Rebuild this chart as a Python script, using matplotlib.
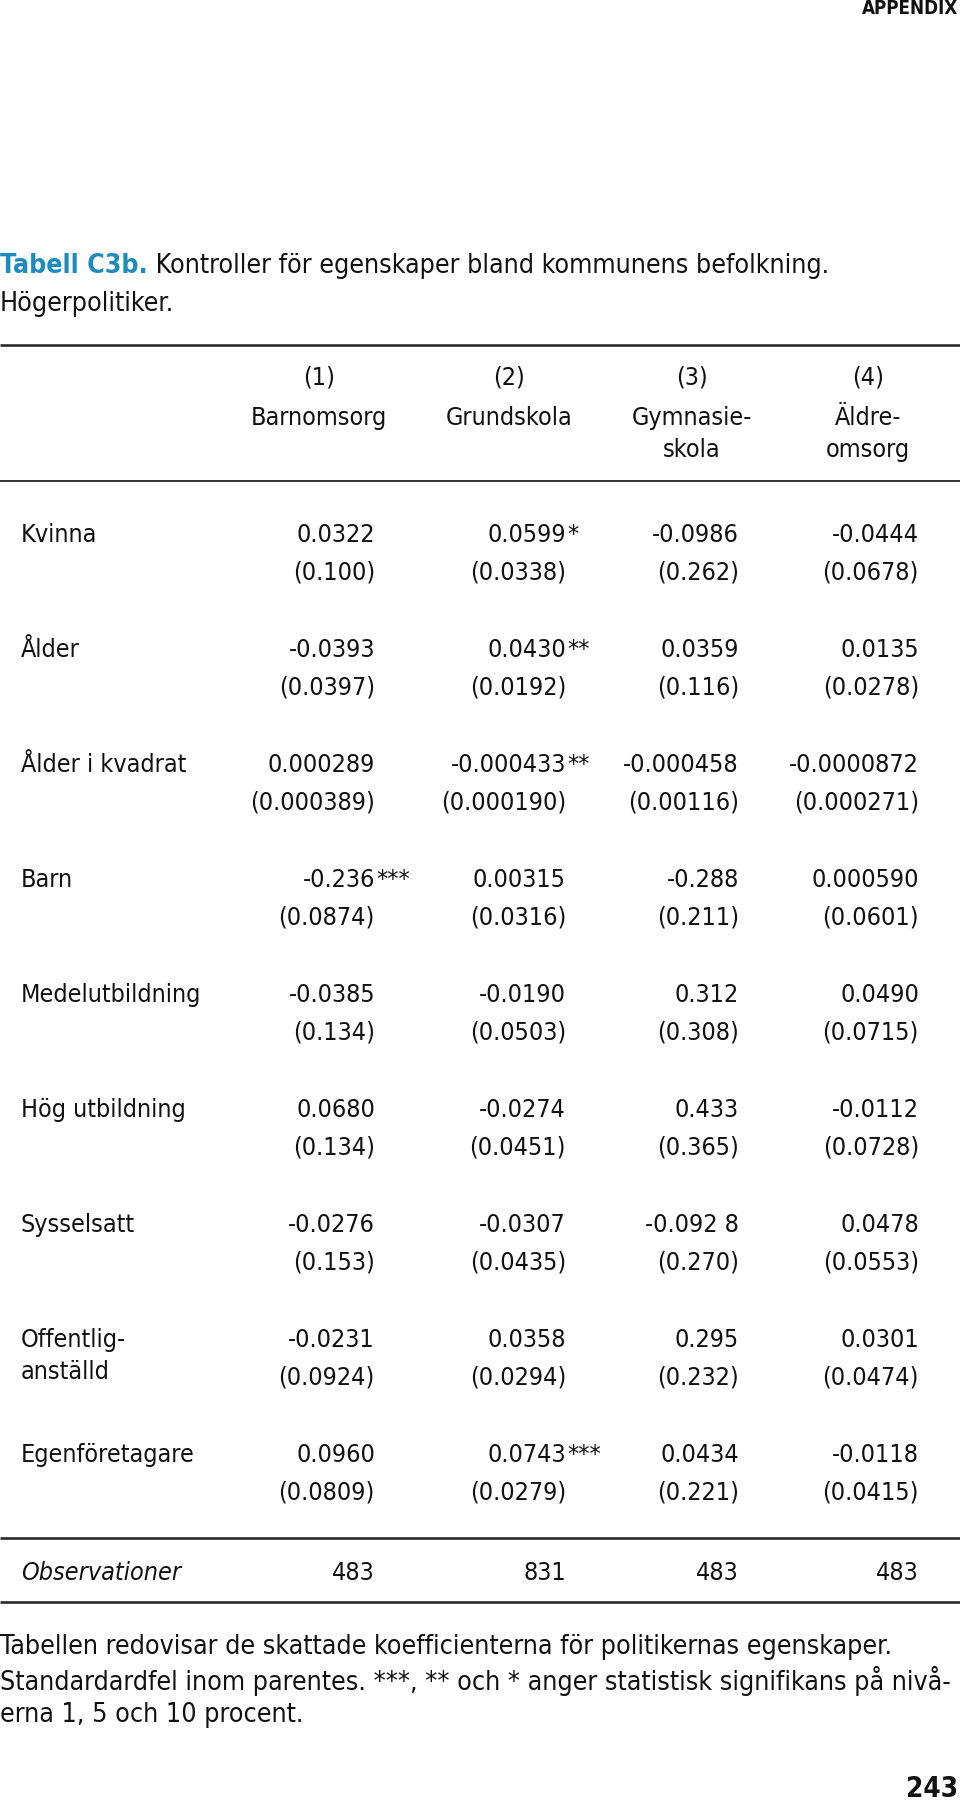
import matplotlib
matplotlib.use("Agg")
import matplotlib.pyplot as plt

# ---------- data ----------
row_labels = ["Kvinna", "Ålder", "Ålder i kvadrat", "Barn", "Medelutbildning",
              "Hög utbildning", "Sysselsatt", "Offentlig-\nanställd", "Egenföretagare"]
col_nums = ["(1)", "(2)", "(3)", "(4)"]
col_names = ["Barnomsorg", "Grundskola", "Gymnasie-\nskola", "Äldre-\nomsorg"]

coef_1 = ["0.0322", "-0.0393", "0.000289", "-0.236", "-0.0385", "0.0680", "-0.0276", "-0.0231", "0.0960"]
se_1 = ["(0.100)", "(0.0397)", "(0.000389)", "(0.0874)", "(0.134)", "(0.134)", "(0.153)", "(0.0924)", "(0.0809)"]
stars_1 = ["", "", "", "***", "", "", "", "", ""]

coef_2 = ["0.0599", "0.0430", "-0.000433", "0.00315", "-0.0190", "-0.0274", "-0.0307", "0.0358", "0.0743"]
se_2 = ["(0.0338)", "(0.0192)", "(0.000190)", "(0.0316)", "(0.0503)", "(0.0451)", "(0.0435)", "(0.0294)", "(0.0279)"]
stars_2 = ["*", "**", "**", "", "", "", "", "", "***"]

coef_3 = ["-0.0986", "0.0359", "-0.000458", "-0.288", "0.312", "0.433", "-0.092 8", "0.295", "0.0434"]
se_3 = ["(0.262)", "(0.116)", "(0.00116)", "(0.211)", "(0.308)", "(0.365)", "(0.270)", "(0.232)", "(0.221)"]
stars_3 = [""] * 9

coef_4 = ["-0.0444", "0.0135", "-0.0000872", "0.000590", "0.0490", "-0.0112", "0.0478", "0.0301", "-0.0118"]
se_4 = ["(0.0678)", "(0.0278)", "(0.000271)", "(0.0601)", "(0.0715)", "(0.0728)", "(0.0553)", "(0.0474)", "(0.0415)"]
stars_4 = [""] * 9

observations = ["483", "831", "483", "483"]

title_lead = "Tabell C3b."
title_rest = " Kontroller för egenskaper bland kommunens befolkning."
title_line2 = "Högerpolitiker."
note_lines = ["Tabellen redovisar de skattade koefficienterna för politikernas egenskaper.",
              "Standardardfel inom parentes. ***, ** och * anger statistisk signifikans på nivå-",
              "erna 1, 5 och 10 procent."]

# ---------- layout ----------
W, H = 960, 1806
FS = 18          # table body
FS_TXT = 19.2    # title + notes
plt.rcParams["font.family"] = "DejaVu Sans"
plt.rcParams["font.stretch"] = "condensed"
TXT = "#111111"
BLUE = "#1e8bbd"

fig = plt.figure(figsize=(W / 100, H / 100), dpi=100)
ax = fig.add_axes([0, 0, 1, 1])
ax.set_xlim(0, W); ax.set_ylim(H, 0); ax.axis("off")

def t(x, y, s, ha="left", **kw):
    kw.setdefault("fontsize", FS); kw.setdefault("color", TXT)
    return ax.text(x, y, s, ha=ha, va="center", **kw)

def width(txt):
    fig.canvas.draw()
    return txt.get_window_extent().transformed(ax.transData.inverted()).x1

t(958, 8, "APPENDIX", ha="right", fontsize=13.5, fontweight="bold")

# title
lead = t(0, 266, title_lead, color=BLUE, fontweight="bold", fontsize=FS_TXT)
t(width(lead), 266, title_rest, fontsize=FS_TXT)
t(0, 304, title_line2, fontsize=FS_TXT)

# rules
for y, lw in [(346, 1.8), (482, 1.3), (1539, 1.8), (1603, 1.8)]:
    ax.plot([0, W], [y, y], color="#222222", lw=lw, solid_capstyle="butt")

col_center = [319, 509, 692, 868]
col_right = [375, 566, 739, 919]

for cx, num, name in zip(col_center, col_nums, col_names):
    t(cx, 378, num, ha="center")
    for k, ln in enumerate(name.split("\n")):
        t(cx, 418 + 32 * k, ln, ha="center")

row_y0, row_step, se_gap = 535, 115, 38
coefs = [coef_1, coef_2, coef_3, coef_4]
ses = [se_1, se_2, se_3, se_4]
stars = [stars_1, stars_2, stars_3, stars_4]

for i, lab in enumerate(row_labels):
    y = row_y0 + i * row_step
    for k, ln in enumerate(lab.split("\n")):
        t(21, y + 32 * k, ln)
    for j in range(4):
        t(col_right[j], y, coefs[j][i], ha="right")
        if stars[j][i]:
            t(col_right[j] + 1, y, stars[j][i], ha="left")
        t(col_right[j], y + se_gap, ses[j][i], ha="right")

t(21, 1573, "Observationer", fontstyle="italic")
for j, ob in enumerate(observations):
    t(col_right[j], 1573, ob, ha="right")

# notes: shrink a line slightly if it would run past the page edge
for k, ln in enumerate(note_lines):
    fs = FS_TXT
    txt = t(0, 1647 + 34 * k, ln, fontsize=fs)
    while width(txt) > 957:
        fs -= 0.2
        txt.set_fontsize(fs)

t(958, 1789, "243", ha="right", fontsize=20, fontweight="bold")

fig.savefig("out.png", dpi=100)
